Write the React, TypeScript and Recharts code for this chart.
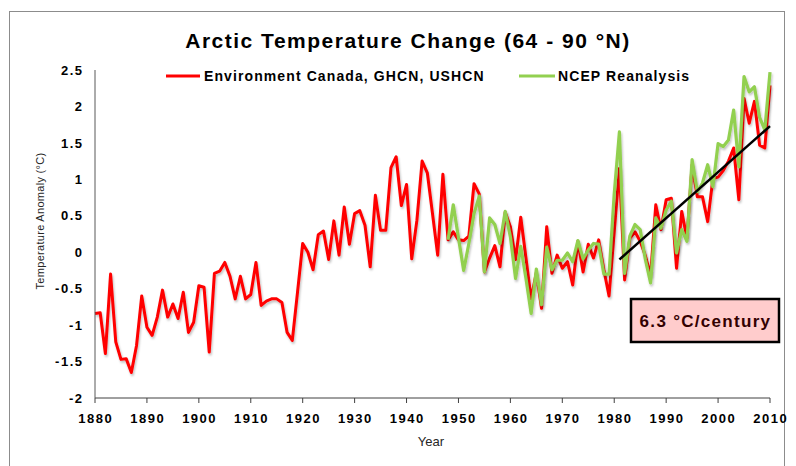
import React from 'react';
import { LineChart, Line, XAxis, YAxis } from 'recharts';

const FIRST_YEAR = 1880;
// Environment Canada, GHCN, USHCN (1880-2010)
const RED_VALUES = [
  -0.84, -0.83, -1.39, -0.30, -1.23, -1.47, -1.46, -1.65, -1.28, -0.60,
  -1.03, -1.14, -0.89, -0.52, -0.89, -0.71, -0.91, -0.55, -1.10, -0.96,
  -0.46, -0.48, -1.37, -0.29, -0.26, -0.14, -0.33, -0.64, -0.33, -0.64,
  -0.58, -0.14, -0.73, -0.67, -0.64, -0.64, -0.69, -1.10, -1.21, -0.55,
  0.12, 0.00, -0.24, 0.24, 0.29, -0.10, 0.43, -0.04, 0.62, 0.11,
  0.53, 0.57, 0.37, -0.20, 0.78, 0.30, 0.30, 1.16, 1.31, 0.64,
  0.93, -0.09, 0.44, 1.25, 1.09, 0.53, -0.04, 1.07, 0.17, 0.28,
  0.17, 0.16, 0.22, 0.94, 0.80, -0.27, -0.08, 0.09, -0.20, 0.55,
  0.35, -0.10, 0.48, -0.08, -0.64, -0.28, -0.77, 0.35, -0.29, -0.04,
  -0.22, -0.13, -0.45, 0.15, -0.27, 0.11, -0.08, 0.17, -0.24, -0.60,
  0.28, 1.15, -0.38, 0.19, 0.28, 0.15, -0.05, -0.32, 0.65, 0.31,
  0.72, 0.74, -0.22, 0.56, 0.19, 1.20, 0.76, 0.76, 0.42, 1.01,
  1.03, 1.12, 1.25, 1.43, 0.72, 2.11, 1.77, 2.07, 1.47, 1.43,
  2.29,
];

// NCEP Reanalysis (1948-2010)
const GREEN_FIRST_YEAR = 1948;
const GREEN_VALUES = [
  0.17, 0.65, 0.20, -0.25, 0.12, 0.53, 0.77, -0.27, 0.47, 0.38,
  0.12, 0.56, 0.21, -0.36, 0.08, -0.36, -0.84, -0.23, -0.72, 0.07,
  -0.24, -0.11, -0.11, -0.01, -0.13, 0.16, -0.09, 0.03, 0.12, 0.11,
  -0.30, -0.30, 0.80, 1.65, -0.29, 0.22, 0.38, 0.31, -0.10, -0.42,
  0.47, 0.33, 0.58, 0.70, -0.01, 0.31, 0.15, 1.27, 0.83, 0.95,
  1.20, 0.90, 1.49, 1.45, 1.54, 1.95, 1.17, 2.41, 2.20, 2.27,
  1.85, 1.68, 2.47,
];

// Linear trend endpoints (6.3 °C/century)
const TREND_YEARS = [1981, 2010];
const TREND_VALUES = [-0.10, 1.73];

const X_TICKS = [1880, 1890, 1900, 1910, 1920, 1930, 1940, 1950, 1960, 1970, 1980, 1990, 2000, 2010];
const Y_TICKS = [-2, -1.5, -1, -0.5, 0, 0.5, 1, 1.5, 2, 2.5];

const TITLE = 'Arctic Temperature Change (64 - 90 \u00B0N)';
const RED_NAME = 'Environment Canada, GHCN, USHCN';
const GREEN_NAME = 'NCEP Reanalysis';
const TREND_LABEL = '6.3 \u00B0C/century';
const Y_LABEL = 'Temperature Anomaly (\u00B0C)';
const X_LABEL = 'Year';

const data = RED_VALUES.map((v, i) => {
  const year = FIRST_YEAR + i;
  const gi = year - GREEN_FIRST_YEAR;
  const ti = TREND_YEARS.indexOf(year);
  return {
    year,
    red: v,
    green: gi >= 0 && gi < GREEN_VALUES.length ? GREEN_VALUES[gi] : null,
    trend: ti >= 0 ? TREND_VALUES[ti] : null,
  };
});

const FONT = '"Liberation Sans", Arial, sans-serif';
const RED = '#FF0000';
const GREEN = '#92D050';

const XTick = (props: any) => {
  const { x, y, payload } = props;
  return (
    <text x={x + 0.75} y={y} dy="0.71em" textAnchor="middle" fontFamily={FONT} fontSize={13}
      fontWeight="bold" fill="#000" letterSpacing={1.5}>
      {payload.value}
    </text>
  );
};

const YTick = (props: any) => {
  const { x, y, payload } = props;
  return (
    <text x={x + 1.5} y={y} dy="0.355em" textAnchor="end" fontFamily={FONT} fontSize={13}
      fontWeight="bold" fill="#000" letterSpacing={1.5}>
      {payload.value}
    </text>
  );
};

export default function App() {
  return (
    <div style={{ position: 'relative', width: 796, height: 466, margin: '-8px 0 0 -8px', overflow: 'hidden', background: '#fff' }}>
      <div style={{ position: 'absolute', left: 9, top: 11, width: 774, height: 480, border: '1px solid #8c8c8c' }} />
      <div style={{ position: 'absolute', left: 0, top: 0 }}>
        <LineChart width={796} height={466} data={data} margin={{ top: 70, right: 26, bottom: 38, left: 0 }}>
          <defs>
            <filter id="lineShadow" x="-5%" y="-5%" width="110%" height="120%">
              <feDropShadow dx="1" dy="2" stdDeviation="1.2" floodColor="#000" floodOpacity="0.25" />
            </filter>
          </defs>
          <XAxis
            type="number"
            dataKey="year"
            domain={[1880, 2010]}
            ticks={X_TICKS}
            interval={0}
            height={30}
            tickSize={5}
            tickMargin={11}
            axisLine={{ stroke: '#404040', strokeWidth: 1 }}
            tickLine={{ stroke: '#404040', strokeWidth: 1 }}
            tick={<XTick />}
          />
          <YAxis
            type="number"
            domain={[-2, 2.5]}
            ticks={Y_TICKS}
            interval={0}
            width={95}
            tickSize={0}
            tickMargin={13}
            axisLine={{ stroke: '#595959', strokeWidth: 1 }}
            tickLine={false}
            tick={<YTick />}
          />
          <Line
            type="linear"
            dataKey="red"
            stroke={RED}
            strokeWidth={3}
            dot={false}
            activeDot={false}
            isAnimationActive={false}
            filter="url(#lineShadow)"
            strokeLinejoin="round"
          />
          <Line
            type="linear"
            dataKey="green"
            stroke={GREEN}
            strokeWidth={3.2}
            dot={false}
            activeDot={false}
            isAnimationActive={false}
            filter="url(#lineShadow)"
            strokeLinejoin="round"
          />
          <Line
            type="linear"
            dataKey="trend"
            stroke="#000"
            strokeWidth={2.5}
            dot={false}
            activeDot={false}
            connectNulls
            isAnimationActive={false}
          />
        </LineChart>
      </div>
      <svg width={796} height={466} style={{ position: 'absolute', left: 0, top: 0, pointerEvents: 'none' }}>
        <text x={408} y={47.5} textAnchor="middle" fontFamily={FONT} fontSize={21} fontWeight="bold"
          fill="#000" letterSpacing={1.5}>
          {TITLE}
        </text>
        <line x1={166} y1={76} x2={200} y2={76} stroke={RED} strokeWidth={3} />
        <text x={204} y={80.5} fontFamily={FONT} fontSize={14} fontWeight="bold" fill="#000" letterSpacing={1.1}>
          {RED_NAME}
        </text>
        <line x1={519} y1={76} x2={555} y2={76} stroke={GREEN} strokeWidth={3.2} />
        <text x={558} y={80.5} fontFamily={FONT} fontSize={14} fontWeight="bold" fill="#000" letterSpacing={1.1}>
          {GREEN_NAME}
        </text>
        <text transform="translate(44,221) rotate(-90)" textAnchor="middle" fontFamily={FONT} fontSize={11}
          fill="#262626" letterSpacing={0.3}>
          {Y_LABEL}
        </text>
        <text x={431} y={446} textAnchor="middle" fontFamily={FONT} fontSize={13} fill="#262626">
          {X_LABEL}
        </text>
        <rect x={631} y={299} width={148} height={43} fill="#FFCCCC" stroke="#000" strokeWidth={2.5} />
        <text x={705.5} y={326.5} textAnchor="middle" fontFamily={FONT} fontSize={17} fontWeight="bold"
          fill="#330000" letterSpacing={1.3}>
          {TREND_LABEL}
        </text>
      </svg>
    </div>
  );
}
